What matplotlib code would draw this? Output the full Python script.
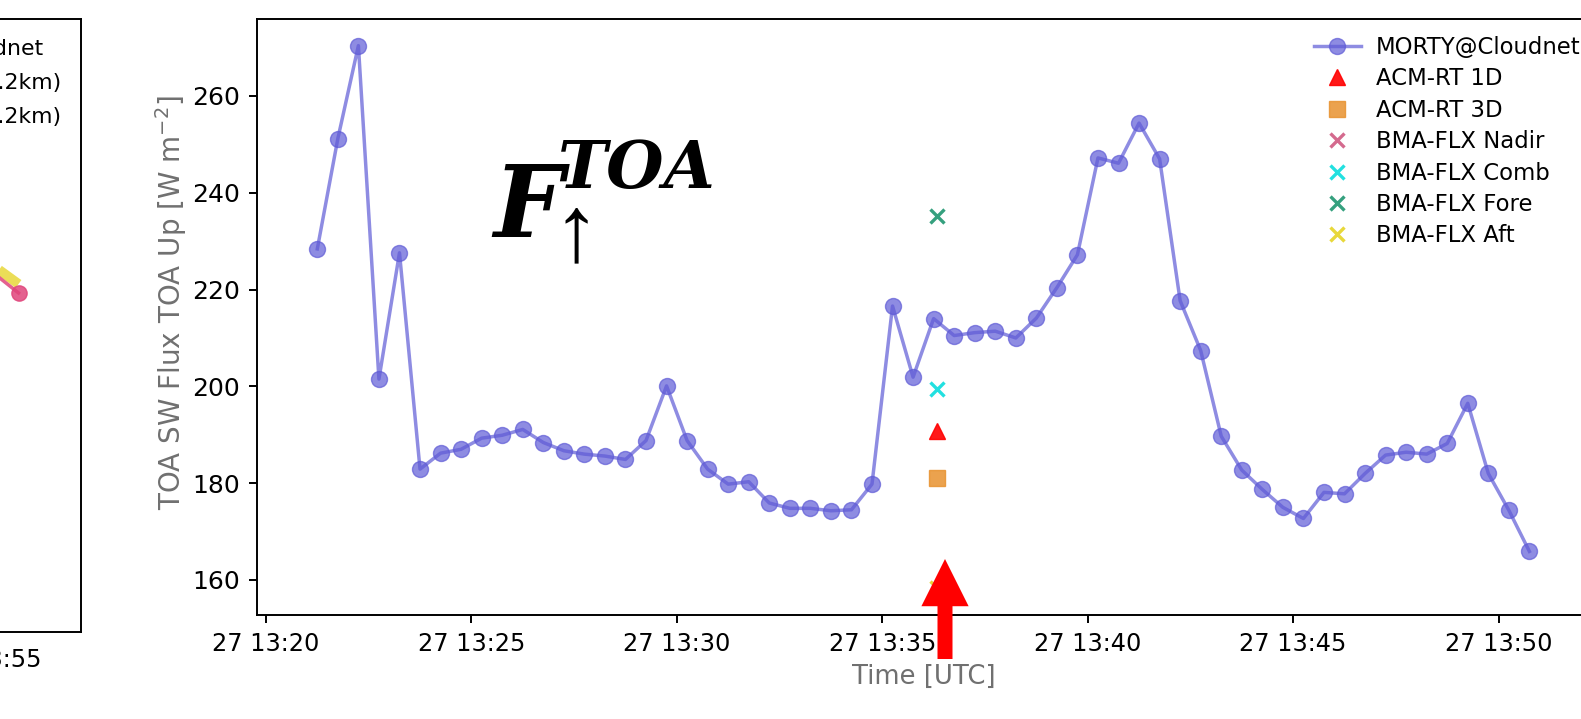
import numpy as np
import pandas as pd
import matplotlib
matplotlib.use("Agg")
import matplotlib.pyplot as plt
import matplotlib.dates as mdates
from matplotlib.ticker import MultipleLocator

plt.rcParams["font.family"] = ["DejaVu Sans"]

# MORTY@Cloudnet, un valor cada 30 s desde 13:21:15
morty_start = "2024-05-27 13:21:15"
morty_flux = [
    228.4, 251.2, 270.4, 201.5, 227.6, 182.9, 186.2, 187.0, 189.3, 189.9,
    191.1, 188.4, 186.7, 186.0, 185.6, 184.9, 188.8, 200.1, 188.8, 182.9,
    179.8, 180.3, 175.9, 174.8, 174.8, 174.3, 174.5, 179.8, 216.6, 201.9,
    214.0, 210.5, 211.1, 211.4, 210.0, 214.1, 220.4, 227.2, 247.2, 246.1,
    254.4, 247.0, 217.7, 207.4, 189.7, 182.7, 178.7, 175.0, 172.7, 178.1,
    177.8, 182.0, 185.8, 186.4, 186.0, 188.2, 196.5, 182.0, 174.4, 165.9,
]

# productos EarthCARE en el overpass
overpass_time = ["2024-05-27 13:36:20"]
acm_1d = [190.8]
acm_3d = [181.1]
bma_nadir = []
bma_comb = [199.4]
bma_fore = [235.3]
bma_aft = [158.3]

# panel de la izquierda (solo se ve el final)
left_times = ["2024-05-27 13:54:33", "2024-05-27 13:56:33"]
left_1d = [228.7, 221.9]
left_3d = [230.0, 223.8]

serif_bi = dict(family="DejaVu Serif", weight="bold", style="italic")

fig = plt.figure(figsize=(15.81, 7.19), dpi=100)

# ---- panel izquierdo, casi todo fuera del recorte
axl = fig.add_axes([81 / 1581 - 0.569, 1 - 632 / 719, 0.569, (632 - 19) / 719])
tl = pd.to_datetime(left_times)
axl.plot(tl, left_3d, color="#e8d83a", alpha=0.85, linewidth=7, solid_capstyle="butt",
         label="ACM-RT 3D (1.2km)")
axl.plot(tl, left_1d, "-o", color="#e0457b", alpha=0.85, linewidth=2.5, markersize=11,
         label="ACM-RT 1D (1.2km)")
axl.plot([], [], "-o", color="#5f5bd6", alpha=0.7, label="MORTY@Cloudnet")
h, lab = axl.get_legend_handles_labels()
axl.legend([h[2], h[1], h[0]], [lab[2], lab[1], lab[0]], loc="upper right",
           frameon=False, fontsize=15.8, labelspacing=0.64)
axl.set_xlim(pd.Timestamp("2024-05-27 13:15:00"), pd.Timestamp("2024-05-27 13:59:39"))
axl.set_ylim(150, 280)
axl.xaxis.set_major_locator(mdates.MinuteLocator(byminute=range(0, 60, 5)))
axl.xaxis.set_major_formatter(mdates.DateFormatter("%d %H:%M"))
axl.tick_params(labelsize=17.3, length=5.8, width=1.4, pad=6)
for s in axl.spines.values():
    s.set_linewidth(1.4)

# ---- panel principal
ax = fig.add_axes([256.7 / 1581, 1 - 615.3 / 719, (1590 - 256.7) / 1581, (615.3 - 19) / 719])
t = pd.date_range(morty_start, periods=len(morty_flux), freq="30s")
t_ov = pd.to_datetime(overpass_time)

ax.plot(t, morty_flux, "-o", color="#5f5bd6", alpha=0.7, linewidth=2.5, markersize=11.5,
        label="MORTY@Cloudnet")
ax.plot(t_ov, acm_1d, "^", color="red", alpha=0.9, markersize=12, linestyle="none",
        label="ACM-RT 1D")
ax.plot(t_ov, acm_3d, "s", color="#e8922f", alpha=0.85, markersize=11, linestyle="none",
        label="ACM-RT 3D")
ax.plot([], [], "x", color="#d46a8e", markersize=10, markeredgewidth=2.4, linestyle="none",
        label="BMA-FLX Nadir")
ax.plot(t_ov, bma_comb, "x", color="#22e0e0", markersize=10, markeredgewidth=2.4,
        linestyle="none", label="BMA-FLX Comb")
ax.plot(t_ov, bma_fore, "x", color="#35a07e", markersize=10, markeredgewidth=2.4,
        linestyle="none", label="BMA-FLX Fore")
ax.plot(t_ov, bma_aft, "x", color="#e8d83a", markersize=10, markeredgewidth=2.4,
        linestyle="none", label="BMA-FLX Aft")

ax.set_ylim(152.7, 275.9)
ax.yaxis.set_major_locator(MultipleLocator(20))
ax.xaxis.set_major_locator(mdates.MinuteLocator(byminute=range(0, 60, 5)))
ax.xaxis.set_major_formatter(mdates.DateFormatter("%d %H:%M"))
ax.tick_params(labelsize=17.3, length=5.8, width=1.4, pad=6)
ax.tick_params(axis="y", labelsize=18)
for s in ax.spines.values():
    s.set_linewidth(1.4)

ax.set_ylabel("TOA SW Flux TOA Up [W m$^{-2}$]", fontsize=20, color="#707070")
ax.yaxis.set_label_coords(-0.0505, 0.525)
ax.set_xlabel("Time [UTC]", fontsize=18.6, color="#707070")
ax.xaxis.set_label_coords(0.5, -0.081)

ax.legend(loc="upper right", bbox_to_anchor=(0.9995, 0.987), frameon=False,
          fontsize=16.4, labelspacing=0.37, handlelength=2.05, handletextpad=0.65,
          borderaxespad=0)

# etiqueta grande F con TOA arriba y flecha abajo
fig.text(493 / 1581, 1 - 237 / 719, "F", fontsize=71, ha="left", va="baseline", **serif_bi)
fig.text(558 / 1581, 1 - 188 / 719, "TOA", fontsize=47.5, ha="left", va="baseline", **serif_bi)
fig.text(576 / 1581, 1 - 238 / 719, "\u2191", fontsize=68, ha="center", va="center",
         family=["Liberation Serif", "DejaVu Sans"])

# flecha roja del overpass
ax.annotate("", xy=(945, 719 - 559), xycoords="figure pixels",
            xytext=(945, 719 - 659), textcoords="figure pixels",
            arrowprops=dict(facecolor="red", edgecolor="none", width=10.8,
                            headwidth=34, headlength=34, shrink=0))

fig.savefig("out.png", dpi=100)
